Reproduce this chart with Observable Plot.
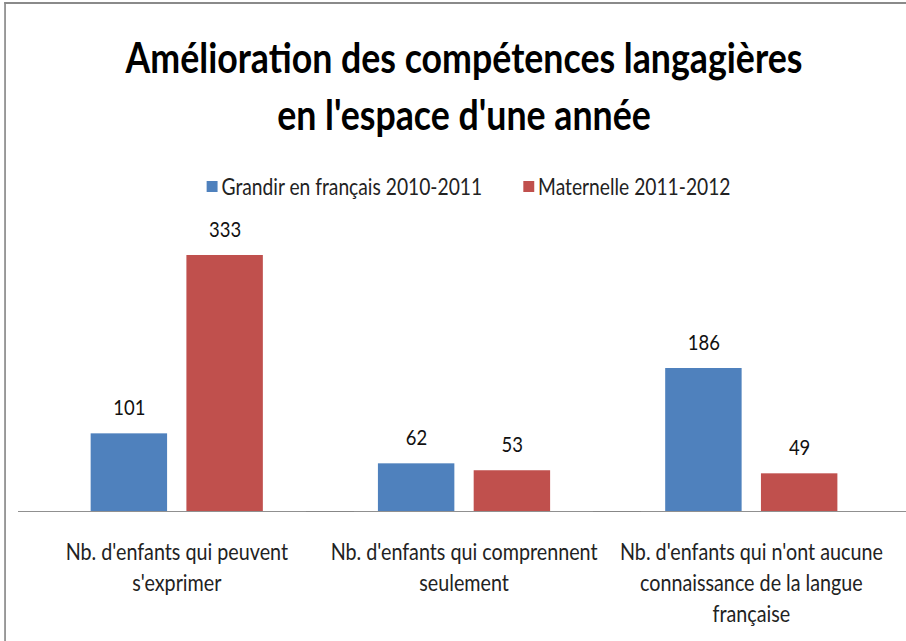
<!DOCTYPE html>
<html>
<head>
<meta charset="utf-8">
<script src="https://cdn.jsdelivr.net/npm/d3@7"></script>
<script src="https://cdn.jsdelivr.net/npm/@observablehq/plot@0.6"></script>
<style>
  html, body { margin: 0; padding: 0; background: #fff; overflow: hidden; width: 906px; height: 641px; }
  #wrap { position: relative; width: 1104.8px; height: 641px; transform: scaleX(0.84); transform-origin: 0 0; font-family: Lato, "Open Sans", sans-serif; }
  #frame { position: absolute; top: 2px; left: 4.8px; width: 1200px; height: 700px; border-top: 2px solid #8a8a8a; border-left: 2.4px solid #8a8a8a; box-sizing: border-box; pointer-events: none; }
  #title { height: 139px; box-sizing: border-box; padding-top: 28.2px; text-align: center; font-weight: 700; font-size: 42.5px; line-height: 57px; color: #000; }
  #legend { height: 71px; box-sizing: border-box; padding-top: 34px; padding-left: 10.7px; display: flex; justify-content: center; align-items: flex-start; gap: 48.8px; font-size: 22.9px; line-height: 26px; color: #222; }
  #legend .item { display: flex; align-items: center; gap: 4.8px; height: 26px; }
  #legend .sw { width: 13.1px; height: 11px; display: inline-block; }
  #chart svg { display: block; overflow: visible; }
</style>
</head>
<body>
<div id="wrap">
  <div id="frame"></div>
  <div id="title">Amélioration des compétences langagières<br>en l'espace d'une année</div>
  <div id="legend"></div>
  <div id="chart"></div>
</div>
<script>
const categories = [
  "Nb. d'enfants qui peuvent\ns'exprimer",
  "Nb. d'enfants qui comprennent\nseulement",
  "Nb. d'enfants qui n'ont aucune\nconnaissance de la langue\nfrançaise"
];
const series = ["Grandir en français 2010-2011", "Maternelle 2011-2012"];
const grandir = [101, 62, 186];
const maternelle = [333, 53, 49];
const colors = ["#4F81BD", "#C0504D"];

const data = categories.flatMap((c, i) => [
  {cat: c, series: series[0], value: grandir[i]},
  {cat: c, series: series[1], value: maternelle[i]}
]);

// legend
const legend = document.getElementById("legend");
series.forEach((s, i) => {
  const item = document.createElement("div");
  item.className = "item";
  const sw = document.createElement("span");
  sw.className = "sw";
  sw.style.background = colors[i];
  const label = document.createElement("span");
  label.textContent = s;
  item.appendChild(sw);
  item.appendChild(label);
  legend.appendChild(item);
});

const chart = Plot.plot({
  width: 1104.8,
  height: 431,
  marginTop: 31.93,
  marginBottom: 130,
  marginLeft: 38.1,
  marginRight: 39.3,
  style: {fontFamily: "Lato, 'Open Sans', sans-serif", fontSize: "22px", color: "#222", background: "transparent"},
  fx: {domain: categories, padding: 0, label: null},
  x: {domain: series, paddingInner: 0.2, paddingOuter: 0.6, axis: null},
  y: {domain: [0, 350], axis: null},
  color: {domain: series, range: colors},
  marks: [
    Plot.barY(data, {fx: "cat", x: "series", y: "value", fill: "series"}),
    Plot.ruleY([0], {stroke: "#868686", strokeWidth: 1, shapeRendering: "crispEdges", insetLeft: -17, insetRight: -40}),
    Plot.text(data, {fx: "cat", x: "series", y: "value", text: d => String(d.value), dy: -25.5, fontSize: 22, fill: "#111"}),
    Plot.axisFx({anchor: "bottom", tickSize: 0, tickPadding: 26.5, fontSize: 23.5, lineHeight: 1.32, label: null, fill: "#222"})
  ]
});
document.getElementById("chart").appendChild(chart);
</script>
</body>
</html>
